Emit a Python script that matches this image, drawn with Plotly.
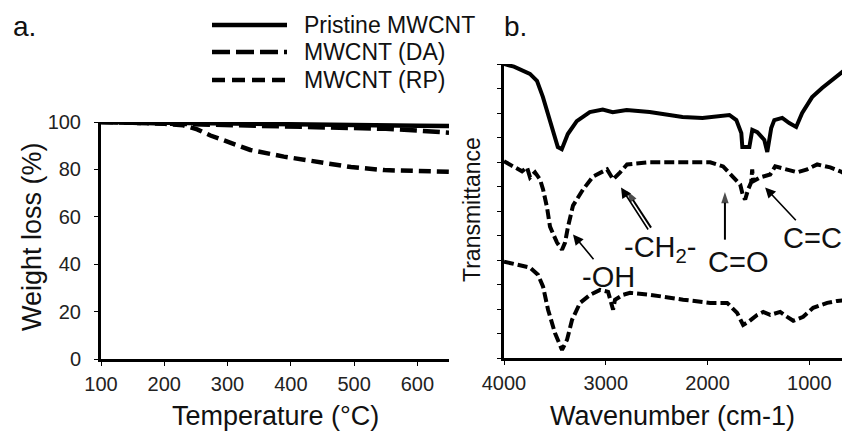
import plotly.graph_objects as go

# ---------------- Panel a: TGA ----------------
temp_pristine = [100, 200, 300, 400, 500, 600, 650]
wt_pristine = [100, 99.6, 99.3, 99.0, 98.7, 98.4, 98.3]

temp_da = [100, 200, 300, 400, 450, 500, 550, 600, 650]
wt_da = [100, 99.4, 98.8, 98.3, 98.0, 97.6, 97.1, 96.4, 95.5]

temp_rp = [100, 200, 230, 252, 273, 300, 336, 389, 442, 495, 548, 600, 650]
wt_rp = [100, 99.3, 98.6, 96.9, 94.3, 91.6, 88.2, 85.4, 83.0, 81.0, 79.7, 79.1, 79.0]

temp_ticks = [100, 200, 300, 400, 500, 600]
wt_ticks = [0, 20, 40, 60, 80, 100]

# ---------------- Panel b: FTIR ----------------
wn_pristine = [4000, 3902, 3745, 3676, 3618, 3549, 3471, 3432, 3373, 3285, 3157, 3030,
               2932, 2795, 2569, 2246, 2050, 1785, 1717, 1668, 1658, 1589, 1560, 1511,
               1442, 1413, 1374, 1344, 1266, 1197, 1129, 1070, 972, 874, 776, 678, 600]
tr_pristine = [120, 118.9, 116, 113.1, 106.6, 96.7, 86.1, 85.2, 91.4, 96.7, 100.4, 101.4,
               100.3, 101.2, 100.4, 98.4, 98.0, 99.2, 97.1, 91.8, 86.1, 86.1, 93.1, 92.2,
               89.0, 84.1, 93.9, 97.1, 98.0, 95.9, 94.3, 100.0, 106.5, 110.2, 113.5, 116.7, 115.2]

wn_da = [4000, 3912, 3823, 3774, 3744, 3695, 3646, 3616, 3577, 3548, 3479, 3430, 3400,
         3371, 3322, 3223, 3125, 2987, 2928, 2859, 2791, 2564, 2240, 1974, 1847, 1748,
         1679, 1650, 1630, 1601, 1571, 1561, 1552, 1483, 1384, 1335, 1217, 1119, 1021,
         922, 794, 696, 600]
tr_da = [80.3, 78.2, 76.2, 77.8, 73.7, 75.8, 72.9, 68.8, 61.4, 53.6, 47.1, 44.2, 47.1,
         53.6, 62.2, 68.8, 74.1, 77.0, 72.9, 75.8, 79.0, 79.9, 79.9, 79.9, 78.2, 74.1,
         70.8, 65.9, 64.7, 68.8, 71.7, 77.0, 72.1, 73.7, 74.9, 78.2, 77.0, 75.8, 77.0,
         79.0, 77.8, 76.2, 74.1]

wn_rp = [4000, 3872, 3744, 3666, 3616, 3567, 3499, 3430, 3381, 3331, 3253, 3154, 3056,
         2977, 2928, 2909, 2830, 2761, 2564, 2240, 1974, 1807, 1709, 1650, 1601, 1512,
         1453, 1384, 1286, 1217, 1158, 1060, 962, 824, 726, 600]
tr_rp = [39.3, 38.1, 36.9, 34.0, 29.1, 19.7, 10.2, 3.3, 7.4, 15.6, 22.5, 25.8, 27.8,
         27.0, 19.7, 23.8, 25.8, 26.6, 25.8, 23.8, 22.5, 22.5, 18.4, 13.5, 14.7, 17.6,
         18.8, 17.6, 18.8, 16.8, 15.2, 16.8, 20.5, 22.5, 23.3, 23.8]

wn_ticks = [4000, 3000, 2000, 1000]
tr_ticks = list(range(0, 121, 10))

series_names = ["Pristine MWCNT", "MWCNT (DA)", "MWCNT (RP)"]

FONT = "Arial, 'Liberation Sans', sans-serif"
W, H = 850, 431
OFF = 8  # page body margin offset


def px(x):
    return (x - OFF) / W


def py(y):
    return 1 - (y - OFF) / H


fig = go.Figure()

# panel a traces
fig.add_trace(go.Scatter(x=temp_pristine, y=wt_pristine, mode="lines", name=series_names[0],
                         line=dict(color="black", width=4.5), xaxis="x", yaxis="y"))
fig.add_trace(go.Scatter(x=temp_da, y=wt_da, mode="lines", name=series_names[1],
                         line=dict(color="black", width=4.5, dash="17px,6px"), xaxis="x", yaxis="y"))
fig.add_trace(go.Scatter(x=temp_rp, y=wt_rp, mode="lines", name=series_names[2],
                         line=dict(color="black", width=4.5, dash="12px,6px"), xaxis="x", yaxis="y"))

# panel b traces
fig.add_trace(go.Scatter(x=wn_pristine, y=tr_pristine, mode="lines", name=series_names[0],
                         line=dict(color="black", width=4), xaxis="x2", yaxis="y2", showlegend=False))
fig.add_trace(go.Scatter(x=wn_da, y=tr_da, mode="lines", name=series_names[1],
                         line=dict(color="black", width=4, dash="10px,4px"), xaxis="x2", yaxis="y2", showlegend=False))
fig.add_trace(go.Scatter(x=wn_rp, y=tr_rp, mode="lines", name=series_names[2],
                         line=dict(color="black", width=4, dash="10px,4px"), xaxis="x2", yaxis="y2", showlegend=False))

# plain arrows (tail -> tip): second -CH2- arrow and the C=O arrow
plain_arrows = [
    ([2555, 2790], [53.2, 68.2]),
    ([1829, 1829], [48.3, 67.8]),
]
for xs, ys in plain_arrows:
    fig.add_trace(go.Scatter(x=xs, y=ys, mode="lines+markers", showlegend=False,
                             hoverinfo="skip", xaxis="x2", yaxis="y2",
                             line=dict(color="black", width=2),
                             marker=dict(symbol="arrow", size=[0, 12], angleref="previous",
                                         color="black", line=dict(width=0))))

axis_common = dict(showgrid=False, zeroline=False, showline=True, linecolor="black", linewidth=3,
                   ticks="outside", ticklen=4, tickwidth=1, tickcolor="black", automargin=False,
                   tickfont=dict(family=FONT, size=20, color="#222"))

fig.update_layout(
    template="none",
    width=W, height=H,
    margin=dict(l=0, r=0, t=0, b=0, pad=0),
    paper_bgcolor="white", plot_bgcolor="white",
    showlegend=False,
    xaxis=dict(domain=[px(101), px(449)], range=[100, 650], tickvals=temp_ticks,
               anchor="y", ticklabelstandoff=1, **axis_common),
    yaxis=dict(domain=[py(359), py(122)], range=[0, 100], tickvals=wt_ticks,
               anchor="x", ticklabelstandoff=9, **axis_common),
    xaxis2=dict(domain=[px(504), px(850)], range=[4000, 600], tickvals=wn_ticks,
                anchor="y2", ticklabelstandoff=1, **axis_common),
    yaxis2=dict(domain=[py(358), py(64)], range=[0, 120], tickvals=tr_ticks,
                showticklabels=False, anchor="x2", **axis_common),
)

ann = []
tfont = dict(family=FONT, size=27, color="#111")
# panel labels
ann.append(dict(text="a.", x=px(11), y=py(27), xref="paper", yref="paper", showarrow=False,
                xanchor="left", yanchor="middle", font=dict(family=FONT, size=28, color="#111")))
ann.append(dict(text="b.", x=px(502), y=py(27), xref="paper", yref="paper", showarrow=False,
                xanchor="left", yanchor="middle", font=dict(family=FONT, size=28, color="#111")))
# axis titles
ann.append(dict(text="Temperature (°C)", x=px(275), y=py(416), xref="paper", yref="paper",
                showarrow=False, xanchor="center", yanchor="middle", font=tfont))
ann.append(dict(text="Weight loss (%)", x=px(32), y=py(237), xref="paper", yref="paper",
                showarrow=False, xanchor="center", yanchor="middle", textangle=-90, font=tfont))
ann.append(dict(text="Wavenumber (cm-1)", x=px(672), y=py(416), xref="paper", yref="paper",
                showarrow=False, xanchor="center", yanchor="middle", font=tfont))
ann.append(dict(text="Transmittance", x=px(472), y=py(210), xref="paper", yref="paper",
                showarrow=False, xanchor="center", yanchor="middle", textangle=-90,
                font=dict(family=FONT, size=23, color="#111")))

# legend (drawn)
legend_rows = [25, 52, 80]
legend_dash = ["solid", "18px,6px", "13px,7px"]
shapes = []
for name, yy, dsh in zip(series_names, legend_rows, legend_dash):
    shapes.append(dict(type="line", xref="paper", yref="paper", x0=px(212), x1=px(287),
                       y0=py(yy), y1=py(yy), line=dict(color="black", width=4.5, dash=dsh)))
    ann.append(dict(text=name, x=px(302), y=py(yy), xref="paper", yref="paper", showarrow=False,
                    xanchor="left", yanchor="middle", font=dict(family=FONT, size=23, color="#111")))

arrow_style = dict(showarrow=True, arrowhead=2, arrowsize=1.3, arrowwidth=1.6, arrowcolor="black",
                   xref="x2", yref="y2", axref="x2", ayref="y2")
lfont = dict(family=FONT, size=29, color="#111")

# labelled arrows: text sits at the tail (ax, ay), arrow points to the peak (x, y)
labelled = [
    ("-OH", 3322, 50.4, 2977, 33.2),
    ("-CH<sub>2</sub>-", 2850, 69.6, 2460, 44.5),
    ("C=C", 1434, 69.6, 971, 49.1),
]
for t, x, y, ax, ay in labelled:
    ann.append(dict(text=t, x=x, y=y, ax=ax, ay=ay, xanchor="center", yanchor="middle",
                    font=lfont, **arrow_style))

ann.append(dict(text="C=O", x=1704, y=39.3, xref="x2", yref="y2", showarrow=False,
                xanchor="center", yanchor="middle", font=lfont))

fig.update_layout(annotations=ann, shapes=shapes)
fig.write_html("out.html")
